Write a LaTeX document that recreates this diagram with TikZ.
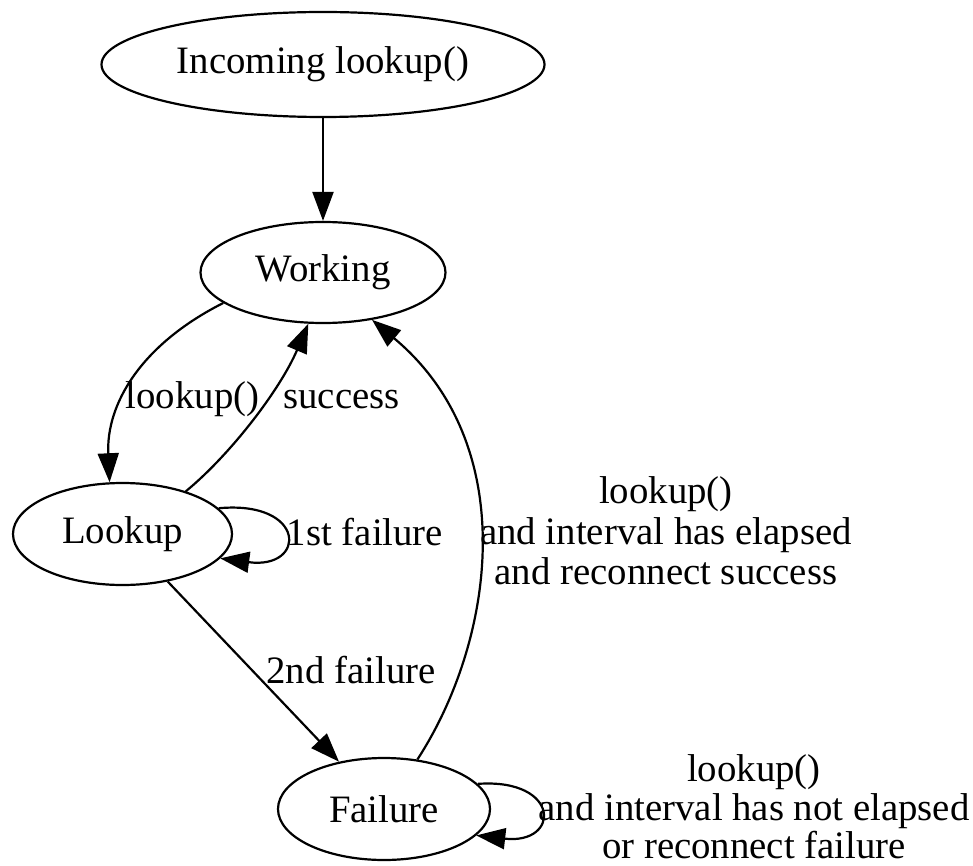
\documentclass[tikz,border=0pt]{standalone}
\usepackage{fontspec}
\setmainfont{Liberation Serif}
\usetikzlibrary{arrows.meta,shapes.geometric}
\begin{document}
\begin{tikzpicture}[x=1pt,y=-1pt,
  every node/.style={font=\fontsize{38.8}{38.5}\selectfont},
  state/.style={draw, ellipse, line width=2.2pt, inner sep=0pt},
  edge/.style={line width=2.2pt, -{Triangle[length=29pt,width=21pt]}},
  lbl/.style={inner sep=0pt, align=center}]
  % canvas
  \fill[white] (0,0) rectangle (973,866);
  \useasboundingbox (0,0) rectangle (973,866);

  % states
  \node[state, minimum width=443pt, minimum height=105pt] (inc)  at (323,64.5) {Incoming lookup()};
  \node[state, minimum width=245pt, minimum height=101pt] (work) at (323,272.5) {Working};
  \node[state, minimum width=219pt, minimum height=102pt] (look) at (122.5,534) {Lookup};
  \node[state, minimum width=212pt, minimum height=102pt] (fail) at (384,809) {Failure};

  % transitions
  \draw[edge] (inc) -- (work);
  \draw[edge] (work.197) .. controls (140,345) and (106,405) .. (look.104);
  \draw[edge] (look.34) .. controls (230,455) and (280,390) .. (work.254);
  \draw[edge] (fail.56) .. controls (495,640) and (522,445) .. (work.316);
  \draw[edge] (look) -- (fail);
  \draw[edge] (look.15) .. controls (307,500) and (307,570) .. (look.-14);
  \draw[edge] (fail.15) .. controls (561,778) and (561,845) .. (fail.-16);

  % transition labels
  \node[lbl, anchor=base] (lblLookup)  at (192.5,408) {lookup()};
  \node[lbl, anchor=base] (lblSuccess) at (341.5,408) {success};
  \node[lbl, anchor=base] (lblFirst)   at (365,545) {1st failure};
  \node[lbl, anchor=base] (lblSecond)  at (351,683) {2nd failure};
  \node[lbl, font=\fontsize{38.8}{40.5}\selectfont] (lblReconnect) at (666,531)
    {lookup()\\and interval has elapsed\\and reconnect success};
  \node[lbl] (lblRetry) at (754,807)
    {lookup()\\and interval has not elapsed\\or reconnect failure};
\end{tikzpicture}
\end{document}
